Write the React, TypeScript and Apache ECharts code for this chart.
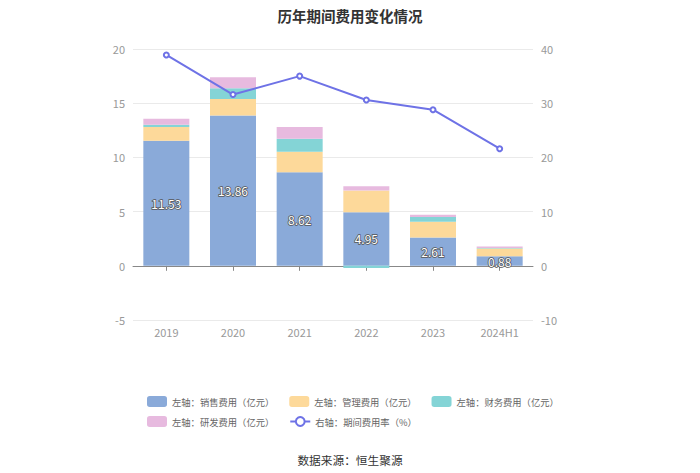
import React, { useEffect, useRef } from "react";
import * as echarts from "echarts";

const categories = ["2019", "2020", "2021", "2022", "2023", "2024H1"];
const salesExpense = [11.53, 13.86, 8.62, 4.95, 2.61, 0.88];
const adminExpense = [1.28, 1.53, 1.89, 2.0, 1.45, 0.72];
const financeExpense = [0.2, 1.0, 1.2, -0.2, 0.45, 0.05];
const rdExpense = [0.55, 1.0, 1.1, 0.4, 0.2, 0.12];
const expenseRate = [38.9, 31.6, 35.0, 30.6, 28.8, 21.6];

const seriesNames = [
  "左轴：销售费用（亿元）",
  "左轴：管理费用（亿元）",
  "左轴：财务费用（亿元）",
  "左轴：研发费用（亿元）",
  "右轴：期间费用率（%）",
];

const FONT = "'Noto Sans CJK SC', sans-serif";

export default function App() {
  const ref = useRef<HTMLDivElement>(null);
  useEffect(() => {
    if (!ref.current) return;
    const chart = echarts.init(ref.current, null, { renderer: "svg" });
    const legendText = { color: "#666", fontSize: 9.3, fontFamily: FONT };
    chart.setOption({
      animation: false,
      textStyle: { fontFamily: FONT },
      title: [
        {
          text: "历年期间费用变化情况",
          left: "center",
          top: 3,
          textStyle: { fontSize: 14.5, fontWeight: "bold", color: "#333", fontFamily: FONT },
        },
        {
          text: "数据来源：恒生聚源",
          left: "center",
          top: 449,
          textStyle: { fontSize: 11.7, fontWeight: "normal", color: "#333", fontFamily: FONT },
        },
      ],
      legend: [
        {
          data: seriesNames.slice(0, 3),
          left: 142,
          top: 391,
          itemWidth: 20,
          itemHeight: 11,
          itemGap: 15,
          textStyle: legendText,
        },
        {
          data: seriesNames.slice(3),
          left: 142,
          top: 411,
          itemWidth: 20,
          itemHeight: 11,
          itemGap: 15,
          textStyle: legendText,
        },
      ],
      grid: { left: 133, right: 167, top: 49, bottom: 153 },
      xAxis: [
        {
          type: "category",
          data: categories,
          position: "bottom",
          axisLine: { show: false, onZero: false },
          axisTick: { show: false },
          axisLabel: { color: "#999", fontSize: 11, margin: 6 },
        },
        {
          type: "category",
          data: categories,
          position: "top",
          axisLine: { show: true, onZero: true, lineStyle: { color: "#888" } },
          axisTick: { show: true, inside: true, alignWithLabel: true, length: 5, lineStyle: { color: "#888" } },
          axisLabel: { show: false },
        },
      ],
      yAxis: [
        {
          type: "value",
          min: -5,
          max: 20,
          interval: 5,
          axisLine: { show: false },
          axisTick: { show: false },
          axisLabel: { color: "#999", fontSize: 11, margin: 8 },
          splitLine: { lineStyle: { color: "#eaeaea" } },
        },
        {
          type: "value",
          min: -10,
          max: 40,
          interval: 10,
          axisLine: { show: false },
          axisTick: { show: false },
          axisLabel: { color: "#999", fontSize: 11, margin: 8 },
          splitLine: { show: false },
        },
      ],
      series: [
        {
          name: seriesNames[0],
          type: "bar",
          stack: "total",
          barWidth: 46,
          data: salesExpense,
          itemStyle: { color: "#8aaad9" },
          label: {
            show: true,
            position: "inside",
            color: "#fff",
            fontSize: 12,
            textBorderColor: "#555",
            textBorderWidth: 1.5,
          },
        },
        {
          name: seriesNames[1],
          type: "bar",
          stack: "total",
          barWidth: 46,
          data: adminExpense,
          itemStyle: { color: "#fdd99a" },
        },
        {
          name: seriesNames[2],
          type: "bar",
          stack: "total",
          barWidth: 46,
          data: financeExpense,
          itemStyle: { color: "#84d4d6" },
        },
        {
          name: seriesNames[3],
          type: "bar",
          stack: "total",
          barWidth: 46,
          data: rdExpense,
          itemStyle: { color: "#e7badf" },
        },
        {
          name: seriesNames[4],
          type: "line",
          yAxisIndex: 1,
          data: expenseRate,
          symbol: "emptyCircle",
          symbolSize: 5,
          lineStyle: { color: "#6e72e6", width: 2 },
          itemStyle: { color: "#6e72e6" },
        },
      ],
    });
    return () => chart.dispose();
  }, []);
  return (
    <div
      ref={ref}
      style={{ position: "absolute", left: 0, top: 0, width: 700, height: 473, background: "#fff" }}
    />
  );
}
